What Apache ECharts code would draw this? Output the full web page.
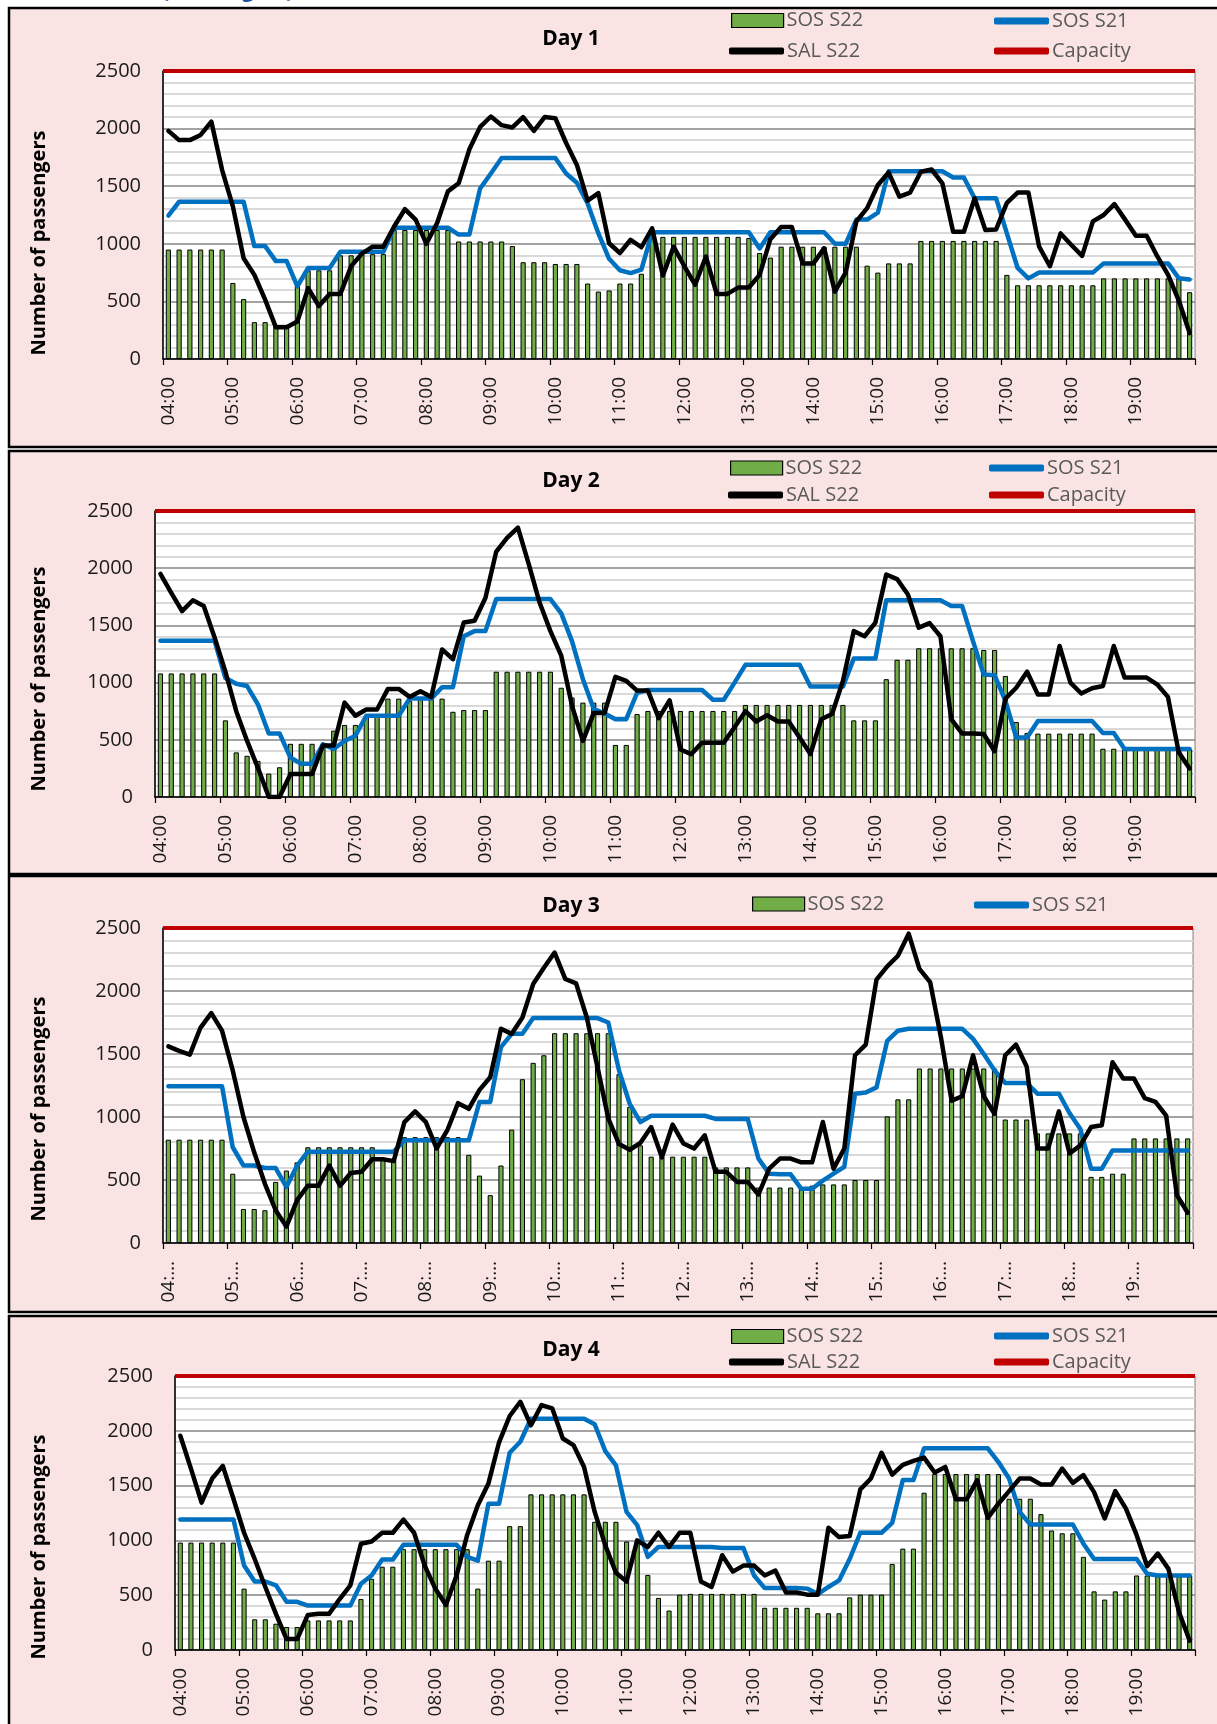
<!DOCTYPE html>
<html><head><meta charset="utf-8">
<script src="https://cdn.jsdelivr.net/npm/echarts@6/dist/echarts.min.js"></script>
<style>html,body{margin:0;padding:0;background:#fff}#c{width:1217px;height:1724px}</style>
</head><body><div id="c"></div>
<script>
// ---------- categories (10-minute slots) ----------
const times = [
 '04:00','04:10','04:20','04:30','04:40','04:50','05:00','05:10','05:20','05:30','05:40','05:50',
 '06:00','06:10','06:20','06:30','06:40','06:50','07:00','07:10','07:20','07:30','07:40','07:50',
 '08:00','08:10','08:20','08:30','08:40','08:50','09:00','09:10','09:20','09:30','09:40','09:50',
 '10:00','10:10','10:20','10:30','10:40','10:50','11:00','11:10','11:20','11:30','11:40','11:50',
 '12:00','12:10','12:20','12:30','12:40','12:50','13:00','13:10','13:20','13:30','13:40','13:50',
 '14:00','14:10','14:20','14:30','14:40','14:50','15:00','15:10','15:20','15:30','15:40','15:50',
 '16:00','16:10','16:20','16:30','16:40','16:50','17:00','17:10','17:20','17:30','17:40','17:50',
 '18:00','18:10','18:20','18:30','18:40','18:50','19:00','19:10','19:20','19:30','19:40','19:50'
];
const yMin = 0, yMax = 2500, yStep = 500;
const capacity = 2500;

// ---------- Day 1 ----------
const day1Sos22 = [950,950,950,950,950,950,660,520,320,320,290,290,640,770,770,770,900,900,910,910,
 910,1120,1120,1120,1120,1120,1120,1020,1020,1020,1020,1020,980,840,840,840,825,825,825,655,
 585,595,655,655,740,1060,1060,1060,1060,1060,1060,1060,1060,1060,1050,920,880,975,975,975,
 975,975,975,975,975,810,750,830,830,830,1025,1025,1025,1025,1025,1025,1025,1025,730,640,
 640,640,640,640,640,640,640,700,700,700,700,700,700,700,700,580];
const day1Sos21 = [1245,1365,1365,1365,1365,1365,1365,1365,980,980,850,850,630,790,790,790,930,930,930,930,
 930,1140,1140,1140,1140,1140,1140,1080,1080,1480,1610,1745,1745,1745,1745,1745,1745,1610,1530,1350,
 1090,870,770,746,775,1100,1100,1100,1100,1100,1100,1100,1100,1100,1100,960,1100,1100,1100,1100,
 1100,1100,1000,1000,1210,1210,1270,1630,1630,1630,1630,1630,1630,1575,1575,1395,1395,1395,1090,790,
 700,750,750,750,750,750,750,830,830,830,830,830,830,830,700,690];
const day1Sal22 = [1980,1900,1900,1945,2060,1640,1325,875,730,515,275,275,325,615,460,565,565,805,915,975,
 975,1150,1300,1210,1000,1180,1455,1525,1820,2015,2105,2030,2010,2100,1980,2100,2090,1875,1685,1375,
 1440,1005,920,1035,970,1135,725,975,805,645,890,565,565,620,620,730,1040,1145,1145,830,
 830,960,585,750,1195,1310,1510,1620,1410,1445,1625,1645,1525,1105,1105,1395,1120,1125,1355,1445,
 1445,975,805,1090,990,895,1195,1250,1345,1210,1070,1070,890,730,505,225];

// ---------- Day 2 ----------
const day2Sos22 = [1080,1080,1080,1080,1080,1080,670,390,360,315,205,260,465,465,465,465,580,630,630,700,
 700,860,860,840,860,860,860,745,760,760,760,1095,1095,1095,1095,1095,1095,955,870,825,
 825,825,455,455,725,752,752,752,752,752,752,752,752,752,805,805,805,805,805,805,
 805,805,805,805,670,670,670,1030,1200,1200,1300,1300,1300,1300,1300,1300,1285,1285,1058,656,
 560,554,554,554,554,554,554,422,422,417,417,417,417,417,417,417];
const day2Sos21 = [1365,1365,1365,1365,1365,1365,1040,990,970,810,555,555,345,290,290,460,420,490,535,710,
 710,710,710,860,860,860,960,960,1405,1450,1450,1730,1730,1730,1730,1730,1730,1605,1360,1030,
 770,730,680,680,910,935,935,935,935,935,935,850,850,1000,1155,1155,1155,1155,1155,1155,
 965,965,965,965,1210,1210,1210,1720,1720,1720,1720,1720,1720,1670,1670,1365,1070,1065,840,520,
 520,665,665,665,665,665,665,560,560,420,420,420,420,420,420,420];
const day2Sal22 = [1950,1785,1625,1720,1670,1395,1095,750,490,255,0,0,200,200,200,450,450,825,710,765,
 765,945,945,875,925,875,1290,1205,1525,1540,1740,2145,2265,2355,2035,1700,1450,1235,795,490,
 735,735,1050,1015,930,930,690,845,415,375,475,475,475,610,750,660,715,660,660,520,
 375,680,725,1015,1450,1405,1525,1945,1905,1770,1480,1520,1405,680,555,555,550,400,860,955,
 1095,895,895,1320,1000,905,950,970,1320,1045,1045,1045,985,875,390,250];

// ---------- Day 3 ----------
const day3Sos22 = [820,820,820,820,820,820,550,270,270,260,485,575,640,760,760,760,760,760,760,760,
 660,660,840,840,840,840,840,840,700,535,380,615,900,1300,1430,1490,1665,1665,1665,1665,
 1665,1665,1340,1080,775,685,685,685,685,685,685,600,600,600,600,440,440,440,440,440,
 455,465,465,465,500,500,500,1005,1140,1140,1385,1385,1385,1385,1385,1385,1385,1385,980,980,
 980,870,870,870,870,870,525,525,550,550,830,830,830,830,830,830];
const day3Sos21 = [1245,1245,1245,1245,1245,1245,760,615,615,595,595,445,615,725,725,725,725,725,725,725,
 725,725,815,815,815,815,815,815,815,1120,1120,1555,1660,1660,1785,1785,1785,1785,1785,1785,
 1785,1750,1370,1105,960,1010,1010,1010,1010,1010,1010,985,985,985,985,670,550,545,545,430,
 430,495,550,605,1185,1195,1235,1605,1685,1700,1700,1700,1700,1700,1700,1620,1500,1370,1270,1270,
 1270,1185,1185,1185,1030,905,590,590,735,735,735,735,735,735,735,735];
const day3Sal22 = [1560,1525,1495,1710,1825,1685,1370,1000,720,470,260,130,340,455,455,615,455,555,565,665,
 665,650,960,1045,960,750,895,1110,1065,1215,1315,1700,1660,1790,2055,2185,2305,2095,2060,1790,
 1395,990,785,740,795,920,680,940,790,750,855,565,565,485,485,385,590,670,670,640,
 640,960,590,750,1490,1575,2090,2195,2280,2455,2175,2070,1635,1130,1165,1490,1165,1025,1490,1575,
 1400,750,750,1045,710,775,920,935,1435,1305,1305,1150,1120,1010,380,240];

// ---------- Day 4 ----------
const day4Sos22 = [980,980,980,980,980,980,560,280,280,240,210,210,270,270,270,270,270,465,650,760,
 760,920,920,920,920,920,920,920,560,815,815,1130,1130,1420,1420,1420,1420,1420,1420,1170,
 1170,1170,990,985,685,475,360,505,512,512,512,512,512,512,512,385,385,385,385,385,
 335,335,335,480,505,505,505,785,925,925,1435,1605,1605,1605,1605,1605,1605,1605,1380,1380,
 1380,1240,1090,1065,1065,850,535,460,535,535,680,680,680,680,680,680];
const day4Sos21 = [1190,1190,1190,1190,1190,1190,770,625,625,590,440,440,405,405,405,405,405,605,680,825,
 825,960,960,960,960,960,960,850,815,1335,1335,1800,1900,2110,2110,2110,2110,2110,2110,2060,
 1815,1685,1260,1140,850,940,940,940,940,940,940,930,930,930,680,565,565,565,565,560,
 510,575,635,830,1070,1070,1070,1160,1550,1550,1840,1840,1840,1840,1840,1840,1840,1715,1565,1260,
 1145,1145,1145,1145,1145,970,830,830,830,830,830,695,680,680,680,680];
const day4Sal22 = [1955,1655,1345,1565,1680,1380,1070,830,575,330,100,100,320,330,330,465,590,970,990,1070,
 1070,1190,1070,770,560,410,680,1050,1320,1520,1895,2135,2265,2050,2235,2205,1930,1870,1670,1260,
 955,705,625,1000,940,1070,940,1070,1070,625,575,865,715,770,770,680,725,525,525,505,
 505,1115,1030,1040,1465,1565,1800,1600,1690,1725,1755,1620,1670,1375,1375,1550,1205,1335,1450,1565,
 1565,1510,1510,1655,1525,1595,1440,1200,1450,1290,1050,765,880,740,345,85];

const dayTitles = ['Day 1','Day 2','Day 3','Day 4'];
const seriesNames = ['SOS S22','SOS S21','SAL S22','Capacity'];
const yAxisName = 'Number of passengers';
const pageTitle = '(Passengers)';

// ---------- layout / style ----------
const FONT = 'Open Sans';
const GREEN = '#70AD47', BLUE = '#0070C0', BLACK = '#000000', RED = '#C00000';
const panels = [
  {y: 8,    h: 439, grid: {left:163, top:71,   width:1032, height:288}, title: 39,   name: 243,  truncate:false,
   legend: [['SOS S22',731,21.5,'bar'],['SAL S22',729,52,'line'],['SOS S21',994,22,'line'],['Capacity',994,52,'line']]},
  {y: 451,  h: 423, grid: {left:155, top:511,  width:1040, height:286}, title: 481,  name: 679,  truncate:false,
   legend: [['SOS S22',730,469,'bar'],['SAL S22',728,496,'line'],['SOS S21',989,469,'line'],['Capacity',989,496,'line']]},
  {y: 876,  h: 436, grid: {left:163, top:928,  width:1030, height:315}, title: 906,  name: 1109, truncate:true,
   legend: [['SOS S22',752,905,'bar'],['SOS S21',974,906,'line']]},
  {y: 1316, h: 430, grid: {left:175, top:1376, width:1020, height:274}, title: 1350, name: 1547, truncate:false,
   legend: [['SOS S22',731,1337.5,'bar'],['SAL S22',729,1363,'line'],['SOS S21',994,1337,'line'],['Capacity',994,1363,'line']]}
];
const dayData = [
  [day1Sos22, day1Sos21, day1Sal22],
  [day2Sos22, day2Sos21, day2Sal22],
  [day3Sos22, day3Sos21, day3Sal22],
  [day4Sos22, day4Sos21, day4Sal22]
];

const grids = [], xAxes = [], yAxes = [], series = [], legends = [], graphics = [];

graphics.push({type:'text', left: 162, top: -19, z: 50,
  style:{text: pageTitle, fill:'#1F4E9E', font:'bold 21px "'+FONT+'"'}});

panels.forEach((p, k) => {
  graphics.push({type:'rect', z:-10, shape:{x:9, y:p.y, width:1240, height:p.h},
    style:{fill:'#F9E3E3', stroke:'#000', lineWidth:2.5}});
  graphics.push({type:'text', z:50, x:571, y:p.title,
    style:{text: dayTitles[k], fill:'#000', font:'bold 21px "'+FONT+'"', textAlign:'center', textVerticalAlign:'middle'}});
  graphics.push({type:'text', z:50, x:39, y:p.name, rotation: Math.PI/2,
    style:{text: yAxisName, fill:'#000', font:'bold 20px "'+FONT+'"', textAlign:'center', textVerticalAlign:'middle'}});

  grids.push(Object.assign({show:true, backgroundColor:'#ffffff', borderColor:'#808080', borderWidth:1}, p.grid));
  xAxes.push({
    type:'category', gridIndex:k, data: times, boundaryGap:true,
    axisLine:{show:true, lineStyle:{color:'#000', width:1.5}},
    axisTick:{show:true, interval:5, length:6, lineStyle:{color:'#000', width:1.2}},
    axisLabel:{interval:5, rotate:90, margin:18, fontFamily:FONT, fontSize:19, color:'#1a1a1a',
      formatter: p.truncate ? (v => v.slice(0,3) + '\u2026') : (v => v)},
    splitLine:{show:false}
  });
  yAxes.push({
    type:'value', gridIndex:k, min:yMin, max:yMax, interval:yStep,
    axisLine:{show:true, lineStyle:{color:'#000', width:1.5}},
    axisTick:{show:false},
    axisLabel:{margin:22, fontFamily:FONT, fontSize:20, color:'#1a1a1a', formatter: v => String(v)},
    splitLine:{show:true, lineStyle:{color:'#868686', width:1.5}},
    minorTick:{show:false, splitNumber:5},
    minorSplitLine:{show:true, lineStyle:{color:'#d9d9d9', width:2}}
  });
  const [bars, blue, black] = dayData[k];
  series.push({type:'bar', name:seriesNames[0], xAxisIndex:k, yAxisIndex:k, data:bars, barWidth:'48%',
    itemStyle:{color:GREEN, borderColor:'#000', borderWidth:1}, z:2});
  series.push({type:'line', name:seriesNames[1], xAxisIndex:k, yAxisIndex:k, data:blue, symbol:'none',
    itemStyle:{color:BLUE}, lineStyle:{color:BLUE, width:4.5, cap:'round', join:'round'}, z:3});
  series.push({type:'line', name:seriesNames[2], xAxisIndex:k, yAxisIndex:k, data:black, symbol:'none',
    itemStyle:{color:BLACK}, lineStyle:{color:BLACK, width:4.5, cap:'round', join:'round'}, z:4});
  series.push({type:'line', name:seriesNames[3], xAxisIndex:k, yAxisIndex:k, data:[], symbol:'none',
    itemStyle:{color:RED}, lineStyle:{color:RED, width:4},
    markLine:{symbol:'none', silent:true, label:{show:false}, animation:false,
      lineStyle:{color:RED, width:4, type:'solid'}, data:[{yAxis:capacity}]}, z:5});

  p.legend.forEach(([nm, lx, cy, kind]) => {
    const isBar = kind === 'bar';
    legends.push({
      data:[{name:nm, icon: isBar ? 'rect' : 'roundRect'}],
      left: lx, top: cy - 11, padding:0, itemGap:0, selectedMode:false,
      itemWidth: isBar ? 52 : 55, itemHeight: isBar ? 14 : 7,
      itemStyle: isBar ? {borderColor:'#000', borderWidth:1.2} : {borderWidth:0},
      textStyle:{fontFamily:FONT, fontSize:20, color:'#595959', padding:[0,0,0,-2]}
    });
  });
});

const chart = echarts.init(document.getElementById('c'), null, {renderer:'canvas'});
chart.setOption({
  animation:false,
  backgroundColor:'#ffffff',
  grid: grids, xAxis: xAxes, yAxis: yAxes, series: series, legend: legends, graphic: graphics
});
</script></body></html>
